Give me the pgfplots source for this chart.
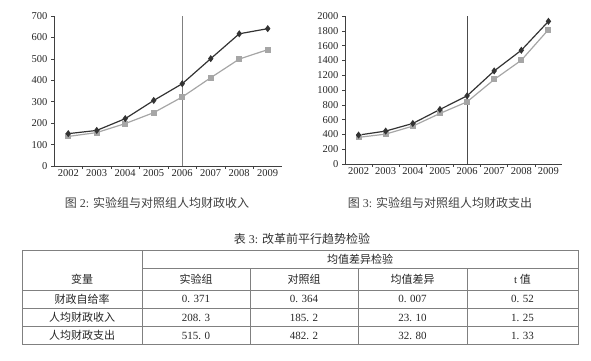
\documentclass[border=0pt]{standalone}
\usepackage{pgfplots}
\pgfplotsset{compat=1.18}
\usepackage{fontspec}
\setmainfont{Liberation Serif}
\newfontfamily\cjk{Noto Sans CJK SC}
\begin{document}
\begin{tikzpicture}
\useasboundingbox (0pt,0pt) rectangle (591pt,360pt);
\pgfplotsset{
  mychart/.style={
    scale only axis, axis lines=left,
    axis line style={-, black!75, line width=0.8pt},
    xmin=2001.5, xmax=2009.5, ymin=0,
    xtick={2002.5,2003.5,...,2008.5}, xticklabels={},
    extra x ticks={2002,2003,2004,2005,2006,2007,2008,2009},
    extra x tick labels={2002,2003,2004,2005,2006,2007,2008,2009},
    extra x tick style={major tick length=0pt},
    tick align=outside, major tick length=3pt,
    tick style={black!75, line width=0.6pt},
    ticklabel style={font=\fontsize{10.5}{12}\selectfont, text=black!85},
    /pgf/number format/assume math mode=true,
    /pgf/number format/1000 sep={},
    clip=false,
  },
  ser1/.style={draw=black!80, line width=1.2pt, mark=diamond*, mark size=2.6pt, mark options={fill=black!80, draw=black!80}},
  ser2/.style={draw=black!35, line width=1.2pt, mark=square*, mark size=2.4pt, mark options={fill=black!35, draw=black!35}},
}
\begin{axis}[mychart, at={(54pt,194pt)}, anchor=south west, width=228pt, height=150pt,
  ymax=700, ytick={0,100,...,700}]
\addplot[black!50, line width=0.8pt] coordinates {(2006,0) (2006,700)};
\addplot[ser2] coordinates {(2002,138)(2003,156)(2004,198)(2005,249)(2006,322)(2007,412)(2008,499)(2009,543)};
\addplot[ser1] coordinates {(2002,151)(2003,166)(2004,221)(2005,306)(2006,384)(2007,501)(2008,617)(2009,641)};
\end{axis}
\begin{axis}[mychart, at={(345pt,196pt)}, anchor=south west, width=217pt, height=148pt,
  ymax=2000, ytick={0,200,...,2000}]
\addplot[black!70, line width=0.8pt] coordinates {(2006,0) (2006,2000)};
\addplot[ser2] coordinates {(2002,360)(2003,404)(2004,512)(2005,683)(2006,840)(2007,1142)(2008,1402)(2009,1816)};
\addplot[ser1] coordinates {(2002,391)(2003,445)(2004,548)(2005,737)(2006,921)(2007,1258)(2008,1537)(2009,1928)};
\end{axis}
\begin{scope}[x=1pt,y=1pt]
% captions
\node[text=black!75, font=\fontsize{12}{14}\selectfont] at (157,157) {{\cjk 图} 2: {\cjk 实验组与对照组人均财政收入}};
\node[text=black!75, font=\fontsize{12}{14}\selectfont] at (440,157) {{\cjk 图} 3: {\cjk 实验组与对照组人均财政支出}};
\node[text=black!80, font=\fontsize{12}{14}\selectfont] at (302,121) {{\cjk 表} 3: {\cjk 改革前平行趋势检验}};
% table
\begin{scope}[draw=black!50, line width=0.9pt]
\draw (22,110) -- (578,110);
\draw (142,91.5) -- (578,91.5);
\draw (22,70) -- (578,70);
\draw (22,51.5) -- (578,51.5);
\draw (22,33.5) -- (578,33.5);
\draw (22,15.5) -- (578,15.5);
\draw (22,110) -- (22,15.5);
\draw (578,110) -- (578,15.5);
\draw (142,110) -- (142,15.5);
\draw (250,91.5) -- (250,15.5);
\draw (358,91.5) -- (358,15.5);
\draw (467,91.5) -- (467,15.5);
\end{scope}
\begin{scope}[every node/.style={text=black!85, font=\fontsize{11}{13}\selectfont}]
\node at (82,81) {\cjk 变量};
\node at (360,100.5) {\cjk 均值差异检验};
\node at (196,80.5) {\cjk 实验组};
\node at (304,80.5) {\cjk 对照组};
\node at (412.5,80.5) {\cjk 均值差异};
\node at (522.5,80.5) {t {\cjk 值}};
\node at (82,61) {\cjk 财政自给率};
\node at (196,61) {0. 371};
\node at (304,61) {0. 364};
\node at (412.5,61) {0. 007};
\node at (522.5,61) {0. 52};
\node at (82,42.5) {\cjk 人均财政收入};
\node at (196,42.5) {208. 3};
\node at (304,42.5) {185. 2};
\node at (412.5,42.5) {23. 10};
\node at (522.5,42.5) {1. 25};
\node at (82,24.5) {\cjk 人均财政支出};
\node at (196,24.5) {515. 0};
\node at (304,24.5) {482. 2};
\node at (412.5,24.5) {32. 80};
\node at (522.5,24.5) {1. 33};
\end{scope}
\end{scope}
\end{tikzpicture}
\end{document}
